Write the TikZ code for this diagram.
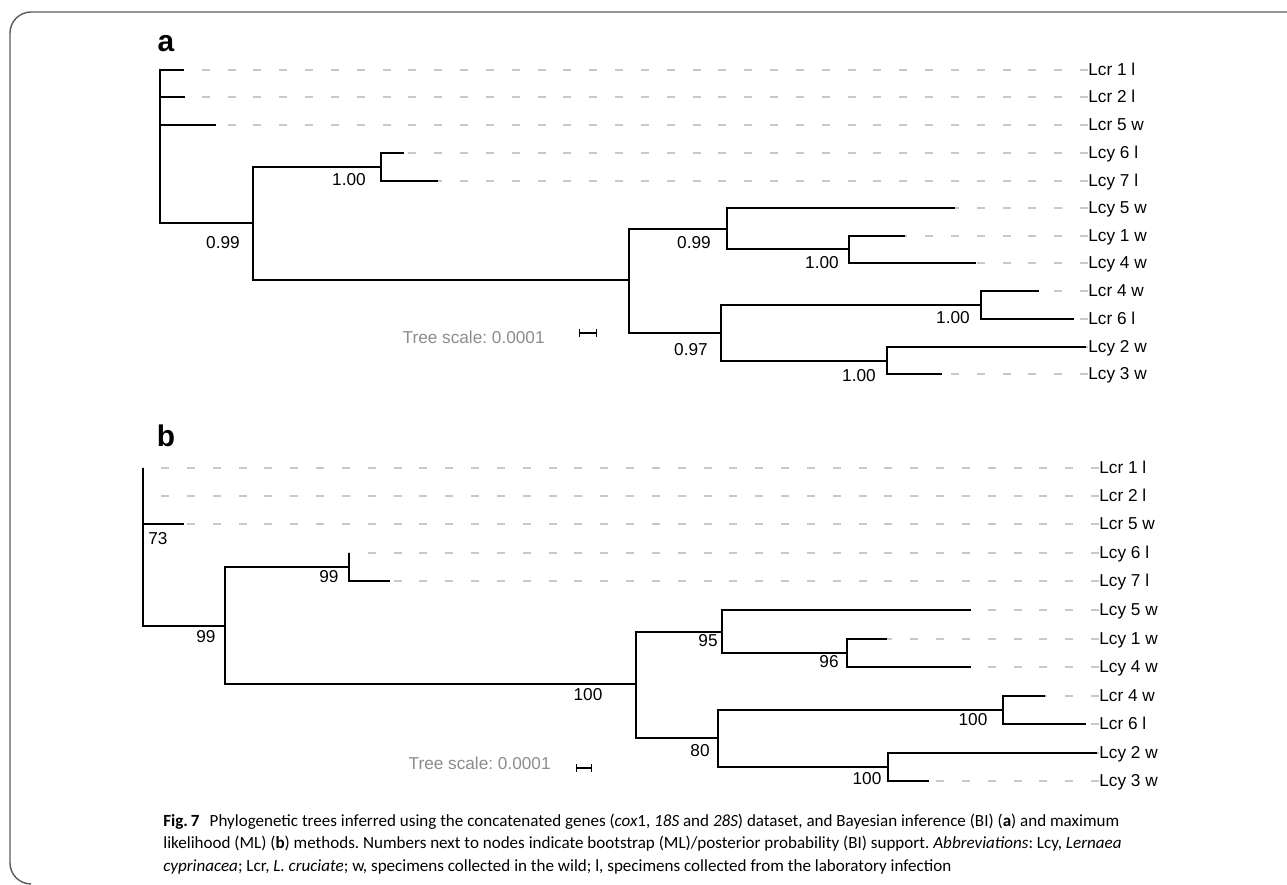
\documentclass[tikz,border=0pt]{standalone}
\usepackage{fontspec}
\setmainfont{Liberation Sans}
\newfontfamily\capfont{Carlito}
\usetikzlibrary{positioning, arrows.meta}
\frenchspacing

\definecolor{dashgray}{RGB}{200,200,200}
\definecolor{scalegray}{RGB}{140,140,140}
\definecolor{framegray}{RGB}{90,90,90}

\tikzset{
	branch/.style={line width=1.1pt},
	guide/.style={dashgray, line width=0.85pt, dash pattern=on 4.5pt off 10.2pt},
	leaf/.style={anchor=base west, inner sep=0pt, font=\fontsize{9.8}{11}\selectfont},
	support/.style={inner sep=0pt, font=\fontsize{9.8}{11}\selectfont},
	panel/.style={anchor=base, inner sep=0pt, font=\fontsize{17}{19}\selectfont\bfseries},
	scaletext/.style={anchor=east, inner sep=0pt, scalegray, font=\fontsize{9.8}{11}\selectfont},
	scalebar/.style={line width=0.8pt, {Bar[width=4pt]}-{Bar[width=4pt]}},
	capline/.style={anchor=base west, inner sep=0pt, font=\capfont\fontsize{9.7}{11}\selectfont},
}

\begin{document}
\begin{tikzpicture}[x=0.2mm, y=-0.2mm]
	\useasboundingbox (0,0) rectangle (1287,885);

	% frame
	\draw[framegray, line width=0.8pt, rounded corners=12] (1295,12) -- (10,12) -- (10,884) -- (30,884);

	% ---------- a: Bayesian inference ----------
	\node[panel] (pa) at (166,52) {a};

	\coordinate (ar) at (160,147);
	\coordinate (an1) at (253,223);
	\coordinate (an2) at (381,167);
	\coordinate (an3) at (629,280);
	\coordinate (an4) at (727,229);
	\coordinate (an5) at (721,333);
	\coordinate (an6) at (849,249);
	\coordinate (an7) at (981,305);
	\coordinate (an8) at (887,361);

	\coordinate (acr1t) at (184,70);
	\coordinate (acr2t) at (185,97);
	\coordinate (acr5t) at (216,125);
	\coordinate (acy6t) at (404,153);
	\coordinate (acy7t) at (438,181);
	\coordinate (acy5t) at (955,208);
	\coordinate (acy1t) at (905,236);
	\coordinate (acy4t) at (976,263);
	\coordinate (acr4t) at (1039,291);
	\coordinate (acr6t) at (1074,319);
	\coordinate (acy2t) at (1086,347);
	\coordinate (acy3t) at (942,374);

	\node[leaf] (acr1) at (1088,76) {Lcr 1 l};
	\node[leaf] (acr2) at (1088,103) {Lcr 2 l};
	\node[leaf] (acr5) at (1088,131) {Lcr 5 w};
	\node[leaf] (acy6) at (1088,159) {Lcy 6 l};
	\node[leaf] (acy7) at (1088,187) {Lcy 7 l};
	\node[leaf] (acy5) at (1088,214) {Lcy 5 w};
	\node[leaf] (acy1) at (1088,242) {Lcy 1 w};
	\node[leaf] (acy4) at (1088,269) {Lcy 4 w};
	\node[leaf] (acr4) at (1088,297) {Lcr 4 w};
	\node[leaf] (acr6) at (1088,325) {Lcr 6 l};
	\node[leaf] (acy2) at (1088,353) {Lcy 2 w};
	\node[leaf] (acy3) at (1088,380) {Lcy 3 w};

	\draw[guide] (acr1.west |- acr1t) -- (acr1t);
	\draw[guide] (acr2.west |- acr2t) -- (acr2t);
	\draw[guide] (acr5.west |- acr5t) -- (acr5t);
	\draw[guide] (acy6.west |- acy6t) -- (acy6t);
	\draw[guide] (acy7.west |- acy7t) -- (acy7t);
	\draw[guide] (acy5.west |- acy5t) -- (acy5t);
	\draw[guide] (acy1.west |- acy1t) -- (acy1t);
	\draw[guide] (acy4.west |- acy4t) -- (acy4t);
	\draw[guide] (acr4.west |- acr4t) -- (acr4t);
	\draw[guide] (acr6.west |- acr6t) -- (acr6t);
	\draw[guide] (acy2.west |- acy2t) -- (acy2t);
	\draw[guide] (acy3.west |- acy3t) -- (acy3t);

	\draw[branch] (ar) |- (acr1t);
	\draw[branch] (ar) |- (acr2t);
	\draw[branch] (ar) |- (acr5t);
	\draw[branch] (ar) |- (an1);
	\draw[branch] (an1) |- (an2);
	\draw[branch] (an1) |- (an3);
	\draw[branch] (an2) |- (acy6t);
	\draw[branch] (an2) |- (acy7t);
	\draw[branch] (an3) |- (an4);
	\draw[branch] (an3) |- (an5);
	\draw[branch] (an4) |- (acy5t);
	\draw[branch] (an4) |- (an6);
	\draw[branch] (an6) |- (acy1t);
	\draw[branch] (an6) |- (acy4t);
	\draw[branch] (an5) |- (an7);
	\draw[branch] (an5) |- (an8);
	\draw[branch] (an7) |- (acr4t);
	\draw[branch] (an7) |- (acr6t);
	\draw[branch] (an8) |- (acy2t);
	\draw[branch] (an8) |- (acy3t);

	\node[support] (as1) at (223,243) {0.99};
	\node[support] (as2) at (349,180) {1.00};
	\node[support] (as4) at (694,243) {0.99};
	\node[support] (as6) at (822,263) {1.00};
	\node[support] (as5) at (691,350) {0.97};
	\node[support] (as7) at (953,318) {1.00};
	\node[support] (as8) at (859,376) {1.00};

	\coordinate (asb1) at (579,333);
	\coordinate (asb2) at (597,333);
	\draw[scalebar] (asb1) -- (asb2);
	\node[scaletext] (ast) at (545,337) {Tree scale: 0.0001};

	% ---------- b: maximum likelihood ----------
	\node[panel] (pb) at (166,447) {b};

	\coordinate (br) at (143,547);
	\coordinate (bn1) at (225,626);
	\coordinate (bn2) at (349,567);
	\coordinate (bn3) at (636,684);
	\coordinate (bn4) at (722,632);
	\coordinate (bn5) at (718,738);
	\coordinate (bn6) at (847,653);
	\coordinate (bn7) at (1003,710);
	\coordinate (bn8) at (888,767);

	\coordinate (bcr1t) at (143,468);
	\coordinate (bcr2t) at (143,496);
	\coordinate (bcr5t) at (184,524);
	\coordinate (bcy6t) at (349,553);
	\coordinate (bcy7t) at (390,581);
	\coordinate (bcy5t) at (971,610);
	\coordinate (bcy1t) at (887,639);
	\coordinate (bcy4t) at (971,667);
	\coordinate (bcr4t) at (1045,696);
	\coordinate (bcr6t) at (1086,724);
	\coordinate (bcy2t) at (1097,753);
	\coordinate (bcy3t) at (929,781);

	\node[leaf] (bcr1) at (1099,474) {Lcr 1 l};
	\node[leaf] (bcr2) at (1099,502) {Lcr 2 l};
	\node[leaf] (bcr5) at (1099,530) {Lcr 5 w};
	\node[leaf] (bcy6) at (1099,559) {Lcy 6 l};
	\node[leaf] (bcy7) at (1099,587) {Lcy 7 l};
	\node[leaf] (bcy5) at (1099,616) {Lcy 5 w};
	\node[leaf] (bcy1) at (1099,645) {Lcy 1 w};
	\node[leaf] (bcy4) at (1099,673) {Lcy 4 w};
	\node[leaf] (bcr4) at (1099,702) {Lcr 4 w};
	\node[leaf] (bcr6) at (1099,730) {Lcr 6 l};
	\node[leaf] (bcy2) at (1099,759) {Lcy 2 w};
	\node[leaf] (bcy3) at (1099,787) {Lcy 3 w};

	\draw[guide] (bcr1.west |- bcr1t) -- (bcr1t);
	\draw[guide] (bcr2.west |- bcr2t) -- (bcr2t);
	\draw[guide] (bcr5.west |- bcr5t) -- (bcr5t);
	\draw[guide] (bcy6.west |- bcy6t) -- (bcy6t);
	\draw[guide] (bcy7.west |- bcy7t) -- (bcy7t);
	\draw[guide] (bcy5.west |- bcy5t) -- (bcy5t);
	\draw[guide] (bcy1.west |- bcy1t) -- (bcy1t);
	\draw[guide] (bcy4.west |- bcy4t) -- (bcy4t);
	\draw[guide] (bcr4.west |- bcr4t) -- (bcr4t);
	\draw[guide] (bcr6.west |- bcr6t) -- (bcr6t);
	\draw[guide] (bcy2.west |- bcy2t) -- (bcy2t);
	\draw[guide] (bcy3.west |- bcy3t) -- (bcy3t);

	\draw[branch] (br) |- (bcr1t);
	\draw[branch] (br) |- (bcr2t);
	\draw[branch] (br) |- (bcr5t);
	\draw[branch] (br) |- (bn1);
	\draw[branch] (bn1) |- (bn2);
	\draw[branch] (bn1) |- (bn3);
	\draw[branch] (bn2) |- (bcy6t);
	\draw[branch] (bn2) |- (bcy7t);
	\draw[branch] (bn3) |- (bn4);
	\draw[branch] (bn3) |- (bn5);
	\draw[branch] (bn4) |- (bcy5t);
	\draw[branch] (bn4) |- (bn6);
	\draw[branch] (bn6) |- (bcy1t);
	\draw[branch] (bn6) |- (bcy4t);
	\draw[branch] (bn5) |- (bn7);
	\draw[branch] (bn5) |- (bn8);
	\draw[branch] (bn7) |- (bcr4t);
	\draw[branch] (bn7) |- (bcr6t);
	\draw[branch] (bn8) |- (bcy2t);
	\draw[branch] (bn8) |- (bcy3t);

	\node[support] (bs0) at (158,539) {73};
	\node[support] (bs1) at (206,637) {99};
	\node[support] (bs2) at (329,577) {99};
	\node[support] (bs3) at (588,695) {100};
	\node[support] (bs4) at (708,641) {95};
	\node[support] (bs6) at (829,662) {96};
	\node[support] (bs5) at (700,751) {80};
	\node[support] (bs7) at (973,720) {100};
	\node[support] (bs8) at (867,779) {100};

	\coordinate (bsb1) at (576,768);
	\coordinate (bsb2) at (592,768);
	\draw[scalebar] (bsb1) -- (bsb2);
	\node[scaletext] (bst) at (551,763) {Tree scale: 0.0001};

	% caption
	\node[capline] (cap1) at (163,827) {\textbf{Fig.\,7}\hspace{0.6em}Phylogenetic trees inferred using the concatenated genes (\textit{cox}1, \textit{18S} and \textit{28S}) dataset, and Bayesian inference (BI) (\textbf{a}) and maximum};
	\node[capline] (cap2) at (163,849) {likelihood (ML) (\textbf{b}) methods. Numbers next to nodes indicate bootstrap (ML)/posterior probability (BI) support. \textit{Abbreviations}: Lcy, \textit{Lernaea}};
	\node[capline] (cap3) at (163,871) {\textit{cyprinacea}; Lcr, \textit{L. cruciate}; w, specimens collected in the wild; l, specimens collected from the laboratory infection};
\end{tikzpicture}
\end{document}
